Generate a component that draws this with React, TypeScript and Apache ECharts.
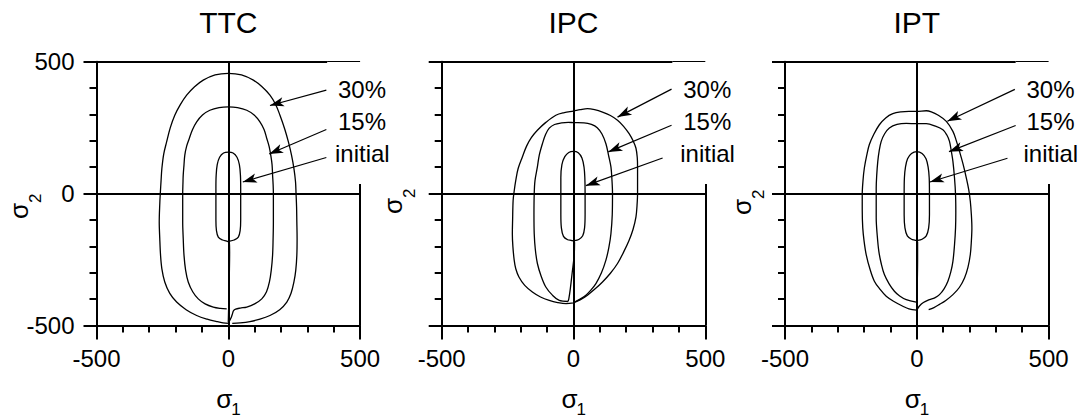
import React, { useEffect, useRef } from 'react';
import * as echarts from 'echarts';

// ---------- data ----------
const AXIS_MIN = -500;
const AXIS_MAX = 500;
const MAJOR_STEP = 500;
const PANEL_TITLES = ['TTC', 'IPC', 'IPT'];
const CURVE_LABELS = ['30%', '15%', 'initial'];

const TTC_30 = [[2,-492],[-20,-490],[-44,-485],[-80,-476],[-120,-462],[-160,-440],[-196,-411],[-222,-378],[-241,-335],[-252,-285],[-257,-234],[-260,-170],[-262,-108],[-260,-40],[-258,0],[-255,50],[-252,95],[-245,150],[-234,196],[-220,250],[-203,297],[-182,337],[-158,373],[-128,405],[-95,430],[-50,450],[0,456],[50,450],[95,430],[128,405],[158,373],[180,337],[196,297],[214,245],[228,196],[240,145],[249,95],[255,45],[257,0],[259,-50],[260,-108],[261,-170],[260,-234],[256,-290],[249,-335],[238,-378],[222,-411],[195,-440],[158,-462],[120,-476],[82,-485],[45,-490],[15,-492]];
const TTC_15 = [[-6,-437],[-30,-435],[-57,-430],[-88,-418],[-114,-399],[-135,-372],[-152,-335],[-162,-290],[-168,-234],[-171,-170],[-173,-108],[-173,-40],[-173,0],[-172,40],[-171,70],[-168,110],[-165,146],[-158,180],[-148,209],[-136,242],[-120,272],[-98,298],[-70,316],[-35,326],[0,329],[35,326],[70,316],[98,298],[120,272],[136,242],[146,209],[155,178],[161,146],[166,110],[168,70],[170,35],[171,0],[171,-40],[171,-108],[170,-170],[168,-234],[163,-290],[156,-335],[145,-372],[127,-399],[100,-418],[70,-430],[45,-434],[28,-438],[20,-444],[15,-458],[10,-472],[5,-482]];
const TTC_INIT = [[6,-180],[22,-176],[38,-165],[45,-140],[47,-100],[47,-40],[47,20],[46,70],[42,110],[33,138],[18,154],[0,157],[-18,154],[-33,138],[-42,110],[-46,70],[-47,20],[-47,-40],[-47,-100],[-45,-140],[-38,-165],[-22,-176],[-6,-180],[4,-186],[5,-220],[4,-300],[2,-400],[0,-488]];

const IPC_30 = [[0,-414],[-28,-417],[-60,-413],[-92,-405],[-125,-392],[-156,-373],[-185,-348],[-207,-316],[-219,-285],[-225,-252],[-230,-200],[-232,-152],[-231,-100],[-229,-25],[-225,10],[-219,50],[-210,95],[-194,139],[-178,180],[-160,212],[-137,240],[-105,270],[-67,297],[-35,307],[0,313],[25,318],[53,322],[80,318],[110,309],[140,296],[167,278],[190,255],[211,227],[226,200],[237,172],[242,135],[243,101],[243,50],[243,0],[241,-45],[237,-88],[226,-135],[211,-177],[190,-222],[167,-265],[140,-302],[110,-335],[80,-363],[53,-385],[25,-403],[0,-414]];
const IPC_15 = [[-21,-409],[-54,-405],[-80,-385],[-105,-354],[-123,-312],[-137,-265],[-145,-210],[-149,-152],[-150,-80],[-149,0],[-146,50],[-137,101],[-130,145],[-118,189],[-106,224],[-92,248],[-72,262],[-45,268],[-20,270],[0,269],[40,268],[68,262],[90,250],[108,226],[123,189],[133,145],[142,101],[146,50],[148,0],[147,-80],[142,-152],[134,-205],[123,-252],[106,-300],[85,-341],[65,-367],[47,-385],[25,-400],[4,-411]];
const IPC_INIT = [[4,-178],[20,-174],[35,-160],[42,-130],[44,-80],[44,0],[43,60],[40,100],[32,135],[18,155],[0,160],[-18,156],[-33,140],[-44,110],[-48,60],[-48,0],[-48,-80],[-46,-130],[-38,-162],[-22,-175],[-6,-178],[4,-185],[2,-240],[-5,-300],[-12,-360],[-18,-400],[-21,-409]];

const IPT_30 = [[0,-442],[-30,-437],[-53,-427],[-85,-410],[-116,-389],[-140,-362],[-161,-332],[-178,-285],[-192,-231],[-200,-180],[-205,-130],[-207,-60],[-207,-4],[-204,50],[-199,97],[-190,145],[-180,186],[-163,225],[-142,261],[-118,287],[-91,303],[-60,310],[-30,312],[0,312],[36,314],[55,310],[80,298],[112,274],[137,236],[150,200],[162,160],[176,110],[188,59],[197,15],[203,-29],[207,-80],[209,-130],[207,-180],[203,-231],[194,-280],[181,-320],[162,-355],[137,-383],[110,-405],[86,-420],[65,-432],[45,-440]];
const IPT_15 = [[-2,-411],[-40,-402],[-65,-388],[-85,-370],[-105,-342],[-123,-307],[-135,-265],[-144,-219],[-150,-160],[-154,-92],[-154,-30],[-154,21],[-152,70],[-148,122],[-143,160],[-135,198],[-122,227],[-104,249],[-75,262],[-40,266],[0,265],[36,265],[70,256],[99,242],[114,222],[124,198],[131,160],[137,122],[143,60],[147,-4],[148,-70],[147,-130],[143,-195],[137,-257],[129,-297],[118,-332],[104,-360],[86,-383],[68,-395],[48,-402],[25,-413],[10,-426],[1,-440]];
const IPT_INIT = [[4,-177],[20,-173],[36,-160],[45,-130],[48,-80],[48,0],[47,60],[43,100],[35,132],[20,152],[0,159],[-20,152],[-35,132],[-43,100],[-47,60],[-48,0],[-48,-80],[-45,-130],[-36,-160],[-20,-173],[-5,-177],[3,-183],[3,-250],[2,-330],[1,-400],[0,-442]];

// arrows: [fromX, fromY, toX, toY] in data units, one per curve label
const TTC_ARROWS = [[372,392,158,334],[372,243,155,150],[372,137,55,44]];
const IPC_ARROWS = [[372,396,167,290],[372,259,132,158],[338,135,47,30]];
const IPT_ARROWS = [[372,395,116,274],[375,258,122,159],[344,134,50,44]];

const PANEL_CURVES = [
  [TTC_30, TTC_15, TTC_INIT],
  [IPC_30, IPC_15, IPC_INIT],
  [IPT_30, IPT_15, IPT_INIT],
];
const PANEL_ARROWS = [TTC_ARROWS, IPC_ARROWS, IPT_ARROWS];

// ---------- layout ----------
const FONT = "'Liberation Sans', Arial, Helvetica, sans-serif";
const GRID_LEFT = [96.5, 441.7, 785];
const GRID_TOP = 61.7;
const GRID_W = 263.6;
const GRID_H = 263.8;
const SIGMA2_POS = [[28, 211], [402, 206], [751, 207]];
const LABEL_Y = [89, 121, 153];
const LABEL_DX = 241.5;

export default function App() {
  const ref = useRef<HTMLDivElement>(null);
  useEffect(() => {
    document.body.style.margin = '0';
    const chart = echarts.init(ref.current!, undefined, { renderer: 'svg' });
    const black = '#000';

    const grids = PANEL_TITLES.map((_, i) => ({
      left: GRID_LEFT[i], top: GRID_TOP, width: GRID_W, height: GRID_H,
    }));

    const xAxes = PANEL_TITLES.map((_, i) => ({
      type: 'value', gridIndex: i, min: AXIS_MIN, max: AXIS_MAX, interval: MAJOR_STEP,
      axisLine: { show: true, onZero: false, lineStyle: { color: black, width: 2 } },
      axisTick: { show: true, length: 14, lineStyle: { color: black, width: 2 } },
      minorTick: { show: true, splitNumber: 5, length: 7, lineStyle: { color: black, width: 2 } },
      splitLine: { show: false },
      minorSplitLine: { show: false },
      axisLabel: { show: true, margin: 21, fontSize: 24, color: black, fontFamily: FONT },
    }));

    const yAxes = PANEL_TITLES.map((_, i) => ({
      type: 'value', gridIndex: i, min: AXIS_MIN, max: AXIS_MAX, interval: MAJOR_STEP,
      axisLine: { show: true, onZero: false, lineStyle: { color: black, width: 2 } },
      axisTick: { show: true, length: 13, lineStyle: { color: black, width: 2 } },
      minorTick: { show: true, splitNumber: 5, length: 7, lineStyle: { color: black, width: 2 } },
      splitLine: { show: false },
      minorSplitLine: { show: false },
      axisLabel: { show: i === 0, margin: 22, fontSize: 24, color: black, fontFamily: FONT },
    }));

    const series: any[] = [];
    PANEL_CURVES.forEach((curves, p) => {
      curves.forEach((pts, c) => {
        const s: any = {
          type: 'line', xAxisIndex: p, yAxisIndex: p, data: pts,
          showSymbol: false, symbol: 'none', smooth: 0.35, clip: false, silent: true,
          lineStyle: { color: black, width: 1.3 },
          emphasis: { disabled: true },
        };
        if (c === 0) {
          const arrows = PANEL_ARROWS[p].map((a) => [
            { coord: [a[0], a[1]], lineStyle: { width: 1.2, color: black } },
            { coord: [a[2], a[3]], symbol: 'arrow', symbolSize: [7, 14] },
          ]);
          s.markLine = {
            silent: true, animation: false,
            symbol: ['none', 'none'],
            label: { show: false },
            emphasis: { disabled: true },
            lineStyle: { color: black, width: 2, type: 'solid' },
            data: [
              { yAxis: 0 },
              { xAxis: 0 },
              [{ coord: [AXIS_MIN, AXIS_MAX] }, { coord: [375, AXIS_MAX] }],
              [{ coord: [375, AXIS_MAX], lineStyle: { width: 1, color: black } }, { coord: [AXIS_MAX, AXIS_MAX] }],
              [{ coord: [AXIS_MAX, 36] }, { coord: [AXIS_MAX, AXIS_MIN] }],
              ...arrows,
            ],
          };
        }
        series.push(s);
      });
    });

    const graphics: any[] = [];
    PANEL_TITLES.forEach((t, i) => {
      const zeroX = GRID_LEFT[i] + GRID_W / 2;
      graphics.push({
        type: 'text', x: zeroX, y: 22.5,
        style: { text: t, fontSize: 30, fontFamily: FONT, fill: black, align: 'center', verticalAlign: 'middle' },
      });
      CURVE_LABELS.forEach((lab, k) => {
        graphics.push({
          type: 'text', x: GRID_LEFT[i] + LABEL_DX - (k === 2 ? 3 : 0), y: LABEL_Y[k],
          style: { text: lab, fontSize: 24, fontFamily: FONT, fill: black, align: 'left', verticalAlign: 'middle' },
        });
      });
      // sigma_1
      graphics.push({
        type: 'text', x: zeroX - 4, y: 399,
        style: { text: 'σ', fontSize: 26, fontFamily: FONT, fill: black, align: 'center', verticalAlign: 'middle' },
      });
      graphics.push({
        type: 'text', x: zeroX + 3, y: 409,
        style: { text: '1', fontSize: 17, fontFamily: FONT, fill: black, align: 'left', verticalAlign: 'middle' },
      });
      // sigma_2 rotated
      graphics.push({
        type: 'group', x: SIGMA2_POS[i][0], y: SIGMA2_POS[i][1], rotation: Math.PI / 2,
        children: [
          { type: 'text', x: 0, y: -9, style: { text: 'σ', fontSize: 26, fontFamily: FONT, fill: black, align: 'center', verticalAlign: 'middle' } },
          { type: 'text', x: 8, y: 7, style: { text: '2', fontSize: 17, fontFamily: FONT, fill: black, align: 'left', verticalAlign: 'middle' } },
        ],
      });
    });

    chart.setOption({
      animation: false,
      backgroundColor: '#fff',
      grid: grids,
      xAxis: xAxes,
      yAxis: yAxes,
      series,
      graphic: graphics,
    });
    return () => chart.dispose();
  }, []);
  return <div ref={ref} style={{ width: 1088, height: 420 }} />;
}
